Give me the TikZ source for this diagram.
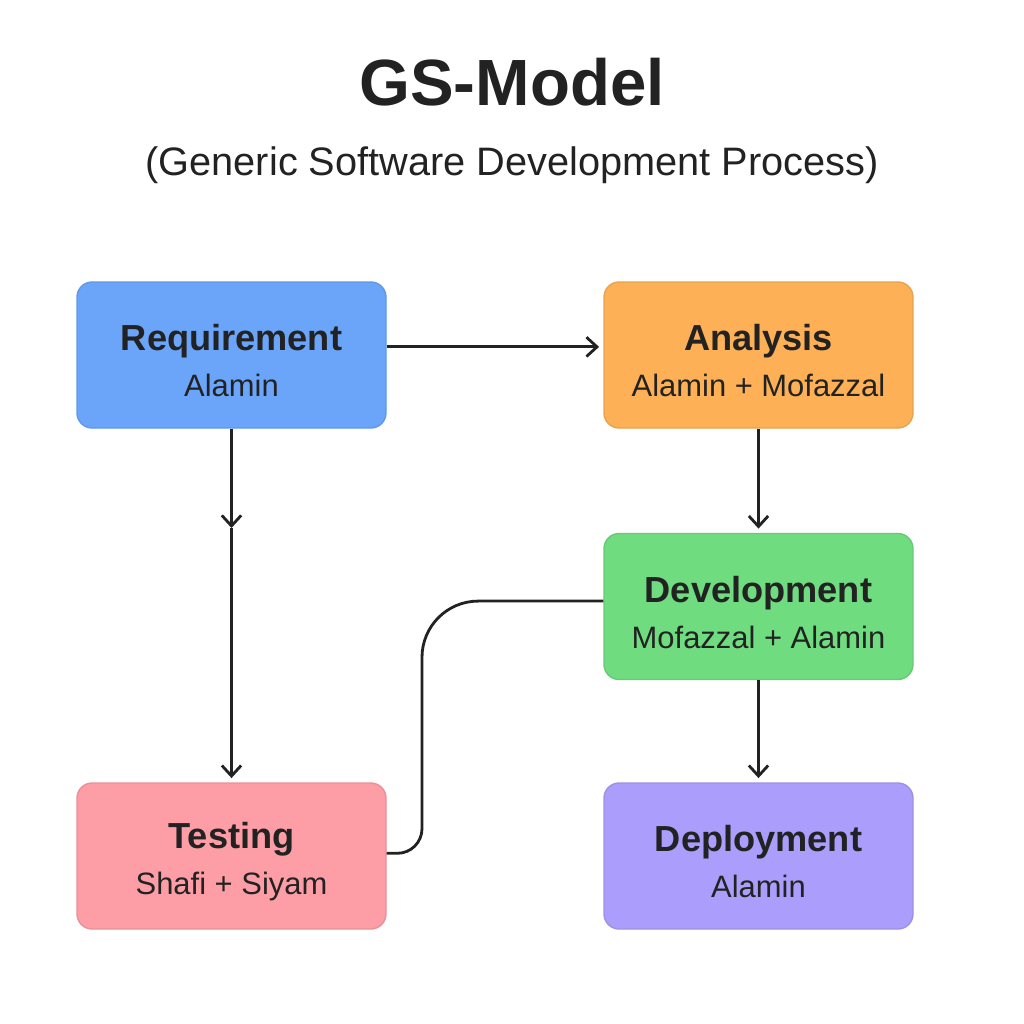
\documentclass[tikz,border=0pt]{standalone}
\usepackage{fontspec}
\setmainfont{Liberation Sans}
\usetikzlibrary{arrows.meta}
\definecolor{ink}{HTML}{222222}
\definecolor{reqblue}{HTML}{6AA5FA}
\definecolor{anaorange}{HTML}{FDB055}
\definecolor{devgreen}{HTML}{70DC80}
\definecolor{testpink}{HTML}{FD9DA6}
\definecolor{deppurple}{HTML}{AB9DFB}
\newcommand{\stagetext}[2]{{\bfseries\fontsize{10.3}{12.8}\selectfont\rule{0pt}{10.8pt}#1}\\[1.1pt]{\fontsize{8.8}{10}\selectfont #2}}
\begin{document}
\begin{tikzpicture}[shorten >=1.2pt, >={Straight Barb[length=3pt,width=5.5pt]}, line width=0.8pt,
  stage node/.style={rectangle,rounded corners=4.3pt,minimum width=3.09cm,minimum height=1.46cm,
    inner sep=0pt,align=center,text=ink,line width=0.4pt}]
\useasboundingbox (0,0) rectangle (10.24,-10.24);
\begin{scope}[every node/.style={text=ink}]
\node [anchor=base,font=\bfseries\fontsize{18.6}{20}\selectfont](title) at (5.12,-1.05) {GS-Model};
\node [anchor=base,font=\fontsize{11.3}{13}\selectfont](subtitle) at (5.12,-1.75) {(Generic Software Development Process)};
\end{scope}
\begin{scope}[every node/.style={stage node}]
\node [fill=reqblue,draw=reqblue!92!black](req) at (2.315,-3.55) {\stagetext{Requirement}{Alamin}};
\node [fill=anaorange,draw=anaorange!92!black](ana) at (7.585,-3.55) {\stagetext{Analysis}{Alamin + Mofazzal}};
\node [fill=devgreen,draw=devgreen!92!black](dev) at (7.585,-6.065) {\stagetext{Development}{Mofazzal + Alamin}};
\node [fill=testpink,draw=testpink!92!black](test) at (2.315,-8.56) {\stagetext{Testing}{Shafi + Siyam}};
\node [fill=deppurple,draw=deppurple!92!black](dep) at (7.585,-8.56) {\stagetext{Deployment}{Alamin}};
\end{scope}
\coordinate (reqmid) at (2.315,-5.28);
\coordinate (bend) at (4.22,-7.3);
\path[every edge/.style={draw=ink,->}]
    (req.3) edge (ana.177)
    (req) edge[shorten >=0pt] (reqmid)
    (reqmid) edge (test)
    (ana) edge (dev)
    (dev) edge (dep)
         ;
\draw[ink,shorten >=0pt] (dev.178) [rounded corners=16pt] -| (bend) [rounded corners=7pt] |- (test.1);
\end{tikzpicture}
\end{document}
